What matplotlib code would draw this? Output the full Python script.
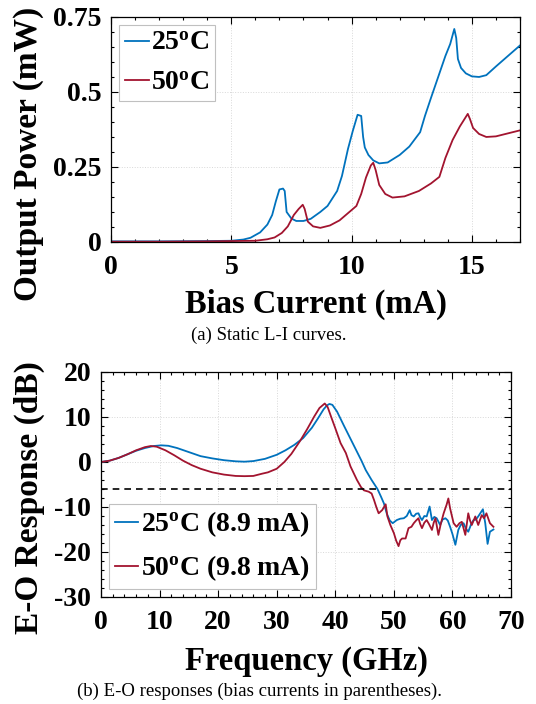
import matplotlib
matplotlib.use("Agg")
import matplotlib.pyplot as plt
from matplotlib.ticker import MultipleLocator, FixedLocator, FuncFormatter

# ---- Static L-I curves ----
I_25 = [0, 2, 4, 5.0, 5.5, 5.8, 6.2, 6.5, 6.7, 6.85, 7.0, 7.15, 7.22, 7.3, 7.5, 7.7,
        8.0, 8.3, 8.7, 9.0, 9.4, 9.6, 9.85, 10.05, 10.25, 10.4, 10.48, 10.55, 10.7,
        10.9, 11.15, 11.5, 12.0, 12.4, 12.85, 13.05, 13.3, 13.6, 13.9, 14.1, 14.27,
        14.35, 14.42, 14.55, 14.75, 15.0, 15.3, 15.6, 16.0, 16.5, 17.0]
P_25 = [0.002, 0.002, 0.003, 0.004, 0.008, 0.014, 0.032, 0.058, 0.09, 0.135, 0.175,
        0.178, 0.17, 0.10, 0.078, 0.07, 0.07, 0.077, 0.10, 0.12, 0.17, 0.22, 0.31,
        0.37, 0.424, 0.42, 0.35, 0.315, 0.29, 0.272, 0.262, 0.265, 0.29, 0.318, 0.366,
        0.42, 0.48, 0.55, 0.62, 0.66, 0.71, 0.68, 0.61, 0.58, 0.562, 0.552, 0.55,
        0.556, 0.585, 0.62, 0.655]

I_50 = [0, 2, 4, 6.0, 6.5, 6.8, 7.1, 7.35, 7.6, 7.8, 7.97, 8.05, 8.18, 8.4, 8.7, 9.1,
        9.5, 10.2, 10.4, 10.6, 10.8, 10.9, 11.0, 11.15, 11.4, 11.7, 12.2, 12.8, 13.3,
        13.65, 13.9, 14.2, 14.5, 14.83, 14.92, 15.05, 15.3, 15.6, 16.0, 16.5, 17.0]
P_50 = [0.001, 0.001, 0.002, 0.004, 0.009, 0.015, 0.03, 0.052, 0.09, 0.11, 0.124,
        0.11, 0.068, 0.052, 0.047, 0.055, 0.072, 0.12, 0.16, 0.215, 0.255, 0.264,
        0.24, 0.19, 0.16, 0.148, 0.152, 0.17, 0.195, 0.217, 0.28, 0.34, 0.385, 0.427,
        0.41, 0.38, 0.36, 0.35, 0.352, 0.362, 0.372]

# ---- E-O responses ----
f_25 = [0, 1.5, 3, 4.5, 6, 7.5, 9, 10.3, 11.5, 13, 15, 17, 19, 21, 23, 24.5, 26, 28,
        30, 31.5, 33, 34.5, 36, 37, 38, 38.6, 39.0, 39.5, 40.3, 41.5, 42.5, 43.5,
        44.5, 45.2, 46.2, 47.2, 47.8, 48.3, 48.8, 49.3, 49.8,
        50.5, 51.1, 51.7, 52.2, 52.7, 53.0, 53.4, 53.8, 54.2, 54.5, 54.8, 55.2, 55.6,
        56.1, 56.5, 56.9, 57.3, 57.9, 58.3, 58.8, 59.2, 59.6, 60.0, 60.5, 61.0, 61.4,
        61.9, 62.3, 62.7, 63.2, 63.6, 64.0, 64.4, 64.8, 65.2, 65.6, 66.0, 66.4, 67.0]
r_25 = [0, 0.3, 0.9, 1.7, 2.5, 3.1, 3.55, 3.7, 3.6, 3.1, 2.2, 1.3, 0.8, 0.4, 0.15,
        0.07, 0.2, 0.7, 1.6, 2.6, 3.8, 5.3, 7.6, 9.6, 11.7, 12.6, 12.9, 12.7, 11.2,
        8.0, 5.4, 2.8, 0.2, -1.8, -4.0, -6.0, -7.7, -9.2, -11.5, -13.0, -13.6,
        -12.9, -12.6, -12.5, -12.0, -10.7, -11.8, -12.1, -11.5, -11.4, -12.3, -12.9,
        -12.0, -12.1, -9.9, -12.9, -12.2, -12.5, -14.0, -12.8, -12.5, -13.0, -14.4,
        -16.0, -18.4, -15.1, -14.0, -13.6, -14.8, -15.5, -13.8, -12.9, -12.8, -12.1,
        -11.3, -10.5, -13.6, -18.2, -15.5, -15.0]

f_50 = [0, 1.5, 3, 4.5, 6, 7.5, 8.5, 9.5, 11, 12.5, 14, 15.5, 17, 19, 21, 23, 24.5,
        26, 27.5, 28.5, 30, 31.3, 32.5, 34, 35.2, 36.4, 37.3, 38.2, 38.7, 39.3, 40.0,
        40.9, 41.8, 42.6, 43.7, 44.4, 44.9, 45.7, 46.2, 46.6, 47.0, 47.4, 48.0, 48.6,
        48.9, 49.4, 50.0, 50.4, 50.8, 51.1, 51.4, 52.0, 52.5, 53.0, 53.4, 53.8, 54.2,
        54.5, 54.8, 55.2, 55.6, 56.0, 56.5, 56.8, 57.1, 57.6, 58.0, 58.5, 59.0, 59.3,
        59.6, 60.2, 60.7, 61.2, 61.6, 62.2, 62.7, 63.0, 63.3, 63.9, 64.4, 65.0, 65.4,
        65.8, 66.4, 67.0]
r_50 = [0, 0.3, 0.9, 1.7, 2.6, 3.3, 3.55, 3.4, 2.6, 1.5, 0.3, -0.7, -1.5, -2.3, -2.8,
        -3.1, -3.15, -3.1, -2.6, -2.3, -1.5, 0.0, 1.8, 4.7, 7.3, 10.1, 12.0, 13.0,
        12.2, 10.0, 7.5, 4.2, 2.0, -1.0, -4.0, -5.6, -6.3, -6.6, -7.0, -8.4, -10.0,
        -11.4, -10.7, -9.4, -12.1, -14.0, -15.8, -17.5, -18.7, -17.4, -17.0, -17.0,
        -14.7, -14.4, -13.6, -13.0, -12.5, -13.8, -14.7, -13.5, -12.9, -13.8, -15.1,
        -13.5, -12.5, -16.2, -13.8, -11.4, -9.5, -8.1, -10.3, -13.6, -14.4, -13.6,
        -13.3, -16.2, -11.4, -13.0, -14.0, -12.1, -14.0, -11.8, -12.5, -11.4, -13.6,
        -14.4]

ref_level = -6.0

labels_li = [r'$\mathbf{25^{o}C}$', r'$\mathbf{50^{o}C}$']
labels_eo = [r'$\mathbf{25^{o}C\ (8.9\ mA)}$', r'$\mathbf{50^{o}C\ (9.8\ mA)}$']

BLUE = '#0072BD'
RED = '#A2142F'

plt.rcParams['font.family'] = ['Liberation Serif', 'DejaVu Serif']
plt.rcParams['mathtext.fontset'] = 'custom'
plt.rcParams['mathtext.rm'] = 'Liberation Serif'
plt.rcParams['mathtext.bf'] = 'Liberation Serif:bold'
plt.rcParams['mathtext.it'] = 'Liberation Serif:italic'
plt.rcParams['axes.unicode_minus'] = False

fig = plt.figure(figsize=(5.36, 7.04), dpi=100)
ax1 = fig.add_axes([0.2071, 0.6563, 0.763, 0.3196])
ax2 = fig.add_axes([0.1884, 0.1520, 0.765, 0.3196])

TICK_FS = 20
XLAB_FS = 23.5
YLAB_FS = 24


def style_axes(ax):
    ax.tick_params(which='both', direction='in', top=True, right=True,
                   labelsize=TICK_FS, width=0.8)
    ax.tick_params(axis='x', pad=9.5)
    ax.tick_params(axis='y', pad=7)
    ax.tick_params(which='major', length=5)
    ax.tick_params(which='minor', length=2.5)
    for lab in ax.get_xticklabels() + ax.get_yticklabels():
        lab.set_fontweight('bold')
    for s in ax.spines.values():
        s.set_linewidth(0.9)
    ax.grid(True, which='major', color='#d8d8d8', linestyle=':', linewidth=0.7)
    ax.set_axisbelow(True)


def add_legend(ax, loc):
    leg = ax.legend(loc=loc, fontsize=20, handlelength=0.85, handletextpad=0.1,
                    borderpad=0.2, labelspacing=0.5, borderaxespad=0.3,
                    fancybox=False, framealpha=1)
    leg.get_frame().set_edgecolor('#c0c0c0')
    leg.get_frame().set_linewidth(0.8)
    return leg


# Static L-I panel
ax1.plot(I_25, P_25, color=BLUE, lw=1.3, label=labels_li[0])
ax1.plot(I_50, P_50, color=RED, lw=1.3, label=labels_li[1])
ax1.set_xlim(0, 17)
ax1.set_ylim(0, 0.75)
ax1.xaxis.set_major_locator(MultipleLocator(5))
ax1.xaxis.set_minor_locator(MultipleLocator(1))
ax1.yaxis.set_major_locator(FixedLocator([0, 0.25, 0.5, 0.75]))
ax1.yaxis.set_minor_locator(MultipleLocator(0.05))
ax1.yaxis.set_major_formatter(FuncFormatter(lambda v, p: '0' if v == 0 else ('%g' % v)))
style_axes(ax1)
ax1.set_xlabel('Bias Current (mA)', fontsize=XLAB_FS, fontweight='bold', labelpad=6)
ax1.set_ylabel('Output Power (mW)', fontsize=YLAB_FS, fontweight='bold')
ax1.yaxis.set_label_coords(-0.164, 0.39)
add_legend(ax1, 'upper left')

# E-O response panel
ax2.plot(f_25, r_25, color=BLUE, lw=1.3, label=labels_eo[0])
ax2.plot(f_50, r_50, color=RED, lw=1.3, label=labels_eo[1])
ax2.axhline(ref_level, color='black', lw=1.2, linestyle=(0, (4, 3)))
ax2.set_xlim(0, 70)
ax2.set_ylim(-30, 20)
ax2.xaxis.set_major_locator(MultipleLocator(10))
ax2.xaxis.set_minor_locator(MultipleLocator(2))
ax2.yaxis.set_major_locator(MultipleLocator(10))
ax2.yaxis.set_minor_locator(MultipleLocator(2))
style_axes(ax2)
ax2.set_xlabel('Frequency (GHz)', fontsize=XLAB_FS, fontweight='bold', labelpad=8)
ax2.set_ylabel('E-O Response (dB)', fontsize=YLAB_FS, fontweight='bold')
ax2.yaxis.set_label_coords(-0.137, 0.44)
add_legend(ax2, 'lower left')

fig.text(0.502, 0.524, '(a) Static L-I curves.', ha='center', va='center', fontsize=13.5)
fig.text(0.484, 0.0185, '(b) E-O responses (bias currents in parentheses).',
         ha='center', va='center', fontsize=13.5)

fig.savefig('out.png', dpi=100)
